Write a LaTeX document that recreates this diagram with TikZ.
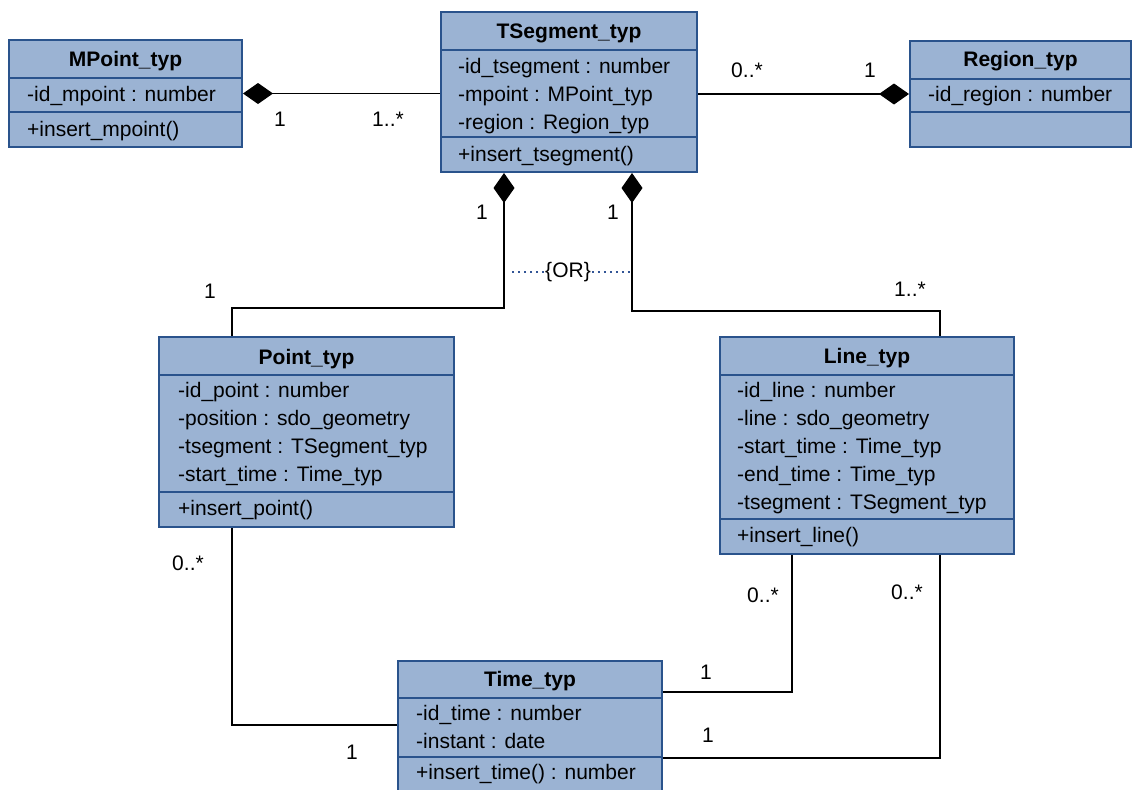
\documentclass[tikz,border=0pt]{standalone}
\usepackage{fontspec}
\setmainfont{Liberation Sans}
\usepackage{xcolor}
\usetikzlibrary{arrows.meta,positioning}

\definecolor{umlfill}{RGB}{155,179,211}
\definecolor{umlborder}{RGB}{42,83,140}
\definecolor{ordots}{RGB}{50,85,150}

\tikzset{
  classbox/.style={draw=umlborder,fill=umlfill,line width=2pt,inner sep=0pt},
  divider/.style={draw=umlborder,line width=2pt},
  classname/.style={anchor=base,inner sep=0pt,font=\fontsize{21}{28}\selectfont\bfseries},
  member/.style={anchor=base west,inner sep=0pt},
  mult/.style={inner sep=1pt},
  comp/.style={{Diamond[length=30pt,width=21pt]}-,line width=1.2pt},
  assoc/.style={line width=1.2pt}
}

\begin{document}
\begin{tikzpicture}
  [x=1pt,y=-1pt,font=\fontsize{21}{28}\selectfont]
  \clip (0,0) rectangle (1133,790);

  % class boxes
  \node[classbox,minimum width=233pt,minimum height=107pt] (mpoint) at (125.5,93.5) {};
  \node[classbox,minimum width=256pt,minimum height=160pt] (tseg) at (569,92) {};
  \node[classbox,minimum width=221pt,minimum height=106pt] (region) at (1020.5,94) {};
  \node[classbox,minimum width=295pt,minimum height=190pt] (point) at (306.5,432) {};
  \node[classbox,minimum width=294pt,minimum height=217pt] (line) at (867,445.5) {};
  \node[classbox,minimum width=264pt,minimum height=140pt] (time) at (530,731) {};

  % compartments
  \foreach \cls/\a/\b in {mpoint/39/73,tseg/39/126,region/39/72,point/39/156,line/39/183,time/38/97}
  {
    \draw[divider] ([yshift=-\a pt]\cls.north west) -- ([yshift=-\a pt]\cls.north east);
    \draw[divider] ([yshift=-\b pt]\cls.north west) -- ([yshift=-\b pt]\cls.north east);
  }

  % MPoint_typ
  \node[classname] (mpointname) at (125.5,66) {MPoint\_typ};
  \node[member] (mpointa1) at (27,101) {-id\_mpoint : number};
  \node[member] (mpointm1) at (27,136) {+insert\_mpoint()};

  % TSegment_typ
  \node[classname] (tsegname) at (569,38) {TSegment\_typ};
  \node[member] (tsega1) at (458,73) {-id\_tsegment : number};
  \node[member] (tsega2) at (458,101) {-mpoint : MPoint\_typ};
  \node[member] (tsega3) at (458,129) {-region : Region\_typ};
  \node[member] (tsegm1) at (458,161) {+insert\_tsegment()};

  % Region_typ
  \node[classname] (regionname) at (1020.5,66) {Region\_typ};
  \node[member] (regiona1) at (928,101) {-id\_region : number};

  % Point_typ
  \node[classname] (pointname) at (306.5,364) {Point\_typ};
  \foreach \txt [count=\i] in {-id\_point : number,-position : sdo\_geometry,-tsegment : TSegment\_typ,-start\_time : Time\_typ}
    \node[member] (pointa\i) at (178,{397+28*(\i-1)}) {\txt};
  \node[member] (pointm1) at (178,515) {+insert\_point()};

  % Line_typ
  \node[classname] (linename) at (867,363) {Line\_typ};
  \foreach \txt [count=\i] in {-id\_line : number,-line : sdo\_geometry,-start\_time : Time\_typ,-end\_time : Time\_typ,-tsegment : TSegment\_typ}
    \node[member] (linea\i) at (737,{397+28*(\i-1)}) {\txt};
  \node[member] (linem1) at (737,542) {+insert\_line()};

  % Time_typ
  \node[classname] (timename) at (530,686) {Time\_typ};
  \node[member] (timea1) at (416,720) {-id\_time : number};
  \node[member] (timea2) at (416,748) {-instant : date};
  \node[member] (timem1) at (416,779) {+insert\_time() : number};

  % connectors
  \draw[comp] (mpoint.east) -- (mpoint.east -| tseg.west);
  \draw[comp] (region.west) -- (region.west -| tseg.east);
  \draw[comp] ([xshift=64pt]tseg.south west) -- ++(0,135) -| ([xshift=74pt]point.north west);
  \draw[comp] ([xshift=192pt]tseg.south west) -- ++(0,138) -| ([xshift=221pt]line.north west);
  \draw[assoc] ([xshift=74pt]point.south west) |- ([yshift=-65pt]time.north west);
  \draw[assoc] ([xshift=73pt]line.south west) |- ([yshift=-32pt]time.north east);
  \draw[assoc] ([xshift=221pt]line.south west) |- ([yshift=-98pt]time.north east);

  % {OR} constraint
  \node[inner sep=1pt] (orlbl) at (568,272) {\{OR\}};
  \draw[ordots,line width=1.6pt,dash pattern=on 1.6pt off 4.4pt] (orlbl.west) -- ++(-34,0);
  \draw[ordots,line width=1.6pt,dash pattern=on 1.6pt off 4.4pt] (orlbl.east) -- ++(40,0);

  % multiplicities
  \node[mult] (m1) at (280,119) {1};
  \node[mult] (m2) at (388,119) {1..*};
  \node[mult] (m3) at (747,70) {0..*};
  \node[mult] (m4) at (870,70) {1};
  \node[mult] (m5) at (482,212) {1};
  \node[mult] (m6) at (613,212) {1};
  \node[mult] (m7) at (210,291) {1};
  \node[mult] (m8) at (910,289) {1..*};
  \node[mult] (m9) at (188,563) {0..*};
  \node[mult] (m10) at (352,752) {1};
  \node[mult] (m11) at (763,595) {0..*};
  \node[mult] (m12) at (907,592) {0..*};
  \node[mult] (m13) at (706,672) {1};
  \node[mult] (m14) at (708,735) {1};
\end{tikzpicture}
\end{document}
